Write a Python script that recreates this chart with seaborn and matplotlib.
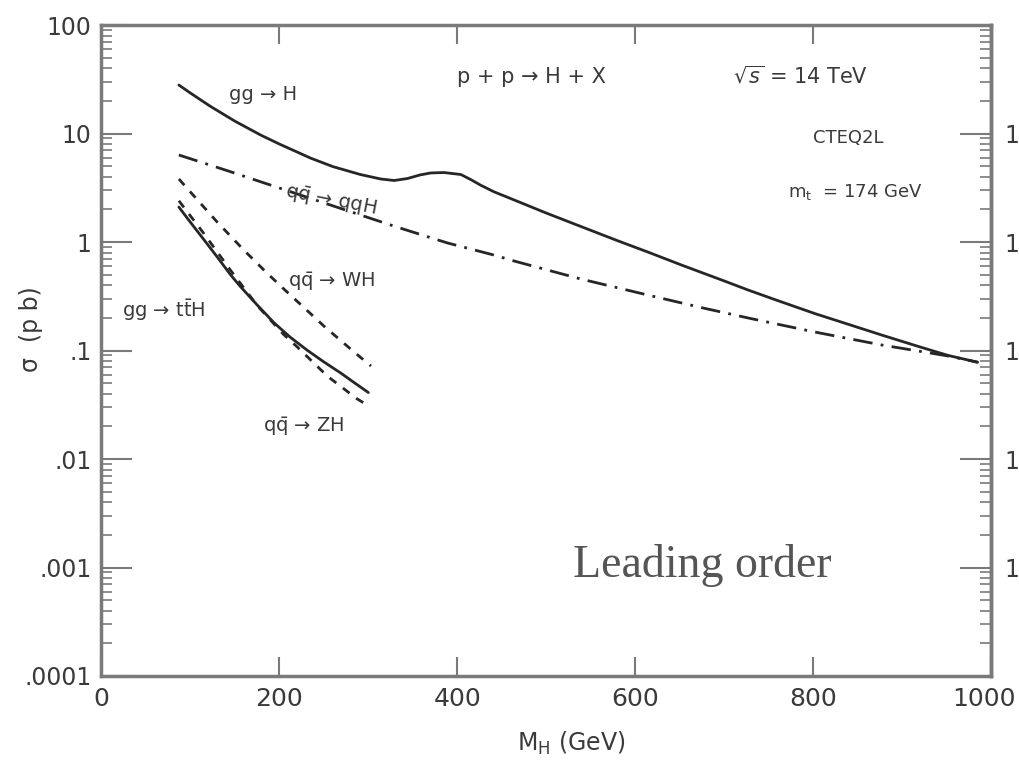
import numpy as np
import pandas as pd
import matplotlib
matplotlib.use("Agg")
import matplotlib.pyplot as plt
import matplotlib.transforms as mtransforms
import seaborn as sns
from matplotlib.ticker import LogLocator, NullFormatter, NullLocator

# ---------------- data ----------------
gg_H_m = [87, 100, 122, 150, 179, 200, 235, 260, 291, 314, 329, 344, 358, 370, 385,
          404, 415, 426, 441, 464, 500, 539, 580, 614, 652, 700, 727, 760, 802, 840,
          877, 920, 952, 985]
gg_H_s = [28.0, 23.6, 17.9, 13.0, 9.68, 8.0, 5.94, 4.96, 4.19, 3.81, 3.69, 3.85, 4.15, 4.33, 4.37,
          4.19, 3.77, 3.35, 2.91, 2.44, 1.85, 1.39, 1.03, 0.81, 0.614, 0.438, 0.361, 0.289, 0.219, 0.174,
          0.139, 0.108, 0.090, 0.078]

qqH_m = [87, 141, 190, 254, 329, 389, 441, 464, 539, 614, 674, 727, 802, 877, 952, 985]
qqH_s = [6.34, 4.56, 3.35, 2.24, 1.40, 0.98, 0.759, 0.668, 0.456, 0.325, 0.249, 0.1995,
         0.148, 0.1125, 0.089, 0.078]

WH_m = [87, 100, 130, 160, 186, 205, 239, 250, 284, 303]
WH_s = [3.81, 2.89, 1.53, 0.843, 0.518, 0.369, 0.204, 0.168, 0.0969, 0.072]

ttH_m = [87, 100, 115, 130, 145, 156, 175, 194, 212, 231, 250, 269, 285, 300]
ttH_s = [2.1, 1.52, 1.055, 0.73, 0.50, 0.39, 0.263, 0.18, 0.133, 0.101, 0.0785, 0.062, 0.050, 0.041]

ZH_m = [87, 115, 145, 175, 205, 220, 254, 287, 300]
ZH_s = [2.4, 1.2, 0.55, 0.26, 0.14, 0.108, 0.058, 0.036, 0.031]

x_ticks = [0, 200, 400, 600, 800, 1000]
y_ticks = [1e-4, 1e-3, 1e-2, 1e-1, 1, 10, 100]
y_tick_labels = [".0001", ".001", ".01", ".1", "1", "10", "100"]
right_ticks = [1e-3, 1e-2, 1e-1, 1, 10]
right_tick_labels = ["1", "1", "1", "1", "1"]

# ---------------- style ----------------
sns.set_style("ticks")
plt.rcParams["font.family"] = ["DejaVu Sans"]
plt.rcParams["mathtext.fontset"] = "dejavusans"

line_c = "#262626"
text_c = "#3a3a3a"
axis_c = "#7a7a7a"

fig = plt.figure(figsize=(10.19, 7.68), dpi=100)
ax = fig.add_axes([0.0996, 0.1198, 0.8729, 0.8476])

series = [
    (gg_H_m, gg_H_s, "-"),
    (qqH_m, qqH_s, (0, (7, 3, 1, 3))),
    (WH_m, WH_s, (0, (3, 3))),
    (ttH_m, ttH_s, "-"),
    (ZH_m, ZH_s, (0, (3, 3))),
]
for m, s, ls in series:
    df = pd.DataFrame({"M": m, "sigma": s})
    sns.lineplot(data=df, x="M", y="sigma", ax=ax, color=line_c, lw=2.0,
                 linestyle=ls, estimator=None, sort=False)

ax.set_yscale("log")
ax.set_xlim(0, 1000)
ax.set_ylim(1e-4, 100)

# spines
for sp in ax.spines.values():
    sp.set_color(axis_c)
    sp.set_linewidth(2.5)

# x ticks
ax.set_xticks(x_ticks)
ax.set_xticklabels([str(v) for v in x_ticks])
ax.xaxis.set_minor_locator(NullLocator())
ax.tick_params(axis="x", which="major", direction="in", length=14, width=1.5,
               top=True, bottom=True, labelsize=18, pad=8, colors=axis_c,
               labelcolor=text_c)

# y ticks (left)
ax.set_yticks(y_ticks)
ax.set_yticklabels(y_tick_labels)
ax.yaxis.set_minor_locator(LogLocator(base=10, subs=np.arange(2, 10)))
ax.yaxis.set_minor_formatter(NullFormatter())
ax.tick_params(axis="y", which="major", direction="in", length=22, width=1.5,
               right=False, labelsize=17, pad=7, colors=axis_c, labelcolor=text_c)
ax.tick_params(axis="y", which="minor", direction="in", length=8, width=1.2,
               right=False, colors=axis_c)

# right axis
sec = ax.secondary_yaxis("right")
sec.set_yticks(right_ticks)
sec.set_yticklabels(right_tick_labels)
sec.yaxis.set_minor_locator(LogLocator(base=10, subs=np.arange(2, 10)))
sec.yaxis.set_minor_formatter(NullFormatter())
sec.tick_params(axis="y", which="major", direction="in", length=22, width=1.5,
                labelsize=17, pad=10, colors=axis_c, labelcolor=text_c)
sec.tick_params(axis="y", which="minor", direction="in", length=8, width=1.2,
                colors=axis_c)
sec.spines["right"].set_color(axis_c)
sec.spines["right"].set_linewidth(2.5)

# nudge the "1000" label so it stays inside the canvas
last_lab = ax.get_xticklabels()[-1]
last_lab.set_transform(last_lab.get_transform() +
                       mtransforms.ScaledTranslation(-7 / 100, 0, fig.dpi_scale_trans))

# axis labels
ax.set_xlabel(r"M$_{\mathrm{H}}$ (GeV)", fontsize=17, color=text_c)
ax.xaxis.set_label_coords(0.528, -0.083)
ax.set_ylabel(r"σ  (p b)", fontsize=17, color=text_c)
ax.yaxis.set_label_coords(-0.066, 0.533)

# annotations
kw = dict(color=text_c, ha="left", va="baseline")
ax.text(143, 20.4, "gg → H", fontsize=14, **kw)
ax.text(400, 29, "p + p → H + X", fontsize=15, **kw)
ax.text(710, 29, r"$\sqrt{s}$ = 14 TeV", fontsize=15, **kw)
ax.text(800, 8.2, "CTEQ2L", fontsize=13, **kw)
ax.text(772, 2.6, r"m$_{\mathrm{t}}$  = 174 GeV", fontsize=13, **kw)
ax.text(205, 2.6, r"q$\bar{\mathrm{q}}$ → qqH", fontsize=14, rotation=-11,
        rotation_mode="anchor", **kw)
ax.text(210, 0.387, r"q$\bar{\mathrm{q}}$ → WH", fontsize=14, **kw)
ax.text(23, 0.205, r"gg → t$\bar{\mathrm{t}}$H", fontsize=14, **kw)
ax.text(182, 0.0179, r"q$\bar{\mathrm{q}}$ → ZH", fontsize=14, **kw)
ax.text(530, 8.2e-4, "Leading order", fontsize=33, family="Liberation Serif",
        color="#555555", ha="left", va="baseline")

fig.savefig("out.png", dpi=100)
